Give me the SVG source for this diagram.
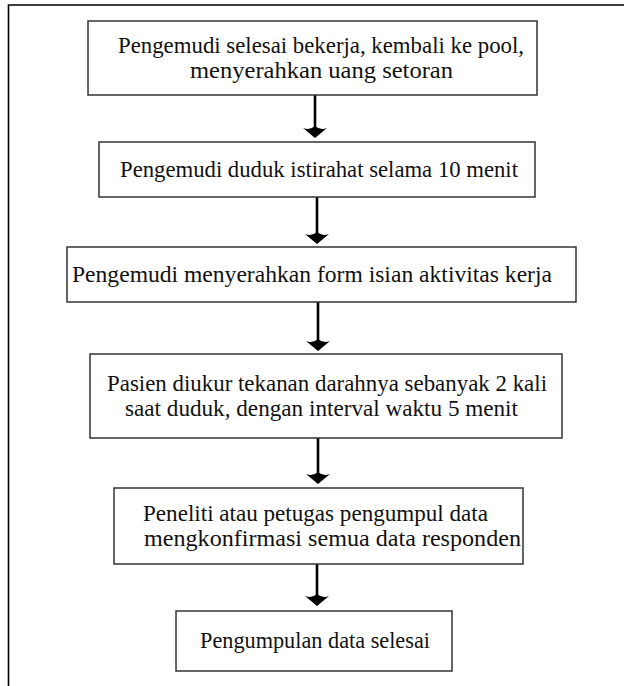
<svg xmlns="http://www.w3.org/2000/svg" width="624" height="686" viewBox="0 0 624 686">
<defs>
<style>
.box{fill:#fff;stroke:#333;stroke-width:1.5}
.t{font-size:22.5px;fill:#111;text-anchor:middle}
.c{stroke:#000;stroke-width:2.6;fill:none}
.frame{stroke:#000;stroke-width:1.6;fill:none}
</style>
<marker id="ah" markerUnits="userSpaceOnUse" markerWidth="26" markerHeight="26" viewBox="-13 -13 26 26" refX="0" refY="0" orient="auto">
<path d="M1,0 L-9,-12 Q-6.5,-5 -11,0 Q-6.5,5 -9,12 Z" fill="#000"/>
</marker>
</defs>
<rect width="624" height="686" fill="#fff"/>
<path class="frame" d="M8.5,686 V5 H624"/>
<g id="connectors">
<line class="c" x1="315" y1="95" x2="315" y2="137" marker-end="url(#ah)"/>
<line class="c" x1="317" y1="197" x2="317" y2="243" marker-end="url(#ah)"/>
<line class="c" x1="318" y1="302" x2="318" y2="350" marker-end="url(#ah)"/>
<line class="c" x1="318" y1="438" x2="318" y2="483" marker-end="url(#ah)"/>
<line class="c" x1="317" y1="564" x2="317" y2="605" marker-end="url(#ah)"/>
</g>
<g font-family="Liberation Serif, Times New Roman, serif">
<g id="n1">
<rect class="box" x="88" y="21" width="449" height="74"/>
<text class="t" x="321" y="52.5" textLength="406" lengthAdjust="spacingAndGlyphs">Pengemudi selesai bekerja, kembali ke pool,</text>
<text class="t" x="321.5" y="77.5" textLength="263" lengthAdjust="spacingAndGlyphs">menyerahkan uang setoran</text>
</g>
<g id="n2">
<rect class="box" x="99" y="142" width="436" height="55"/>
<text class="t" x="319" y="177" textLength="398" lengthAdjust="spacingAndGlyphs">Pengemudi duduk istirahat selama 10 menit</text>
</g>
<g id="n3">
<rect class="box" x="67" y="247" width="509" height="55"/>
<text class="t" x="312" y="282" textLength="480" lengthAdjust="spacingAndGlyphs">Pengemudi menyerahkan form isian aktivitas kerja</text>
</g>
<g id="n4">
<rect class="box" x="90" y="354" width="472" height="84"/>
<text class="t" x="327" y="390.5" textLength="440" lengthAdjust="spacingAndGlyphs">Pasien diukur tekanan darahnya sebanyak 2 kali</text>
<text class="t" x="321.5" y="415.5" textLength="393" lengthAdjust="spacingAndGlyphs">saat duduk, dengan interval waktu 5 menit</text>
</g>
<g id="n5">
<rect class="box" x="114" y="488" width="409" height="76"/>
<text class="t" x="315.5" y="520.5" textLength="345" lengthAdjust="spacingAndGlyphs">Peneliti atau petugas pengumpul data</text>
<text class="t" x="332.5" y="545.5" textLength="377" lengthAdjust="spacingAndGlyphs">mengkonfirmasi semua data responden</text>
</g>
<g id="n6">
<rect class="box" x="176" y="611" width="276" height="60"/>
<text class="t" x="315" y="648" textLength="230" lengthAdjust="spacingAndGlyphs">Pengumpulan data selesai</text>
</g>
</g>
</svg>
